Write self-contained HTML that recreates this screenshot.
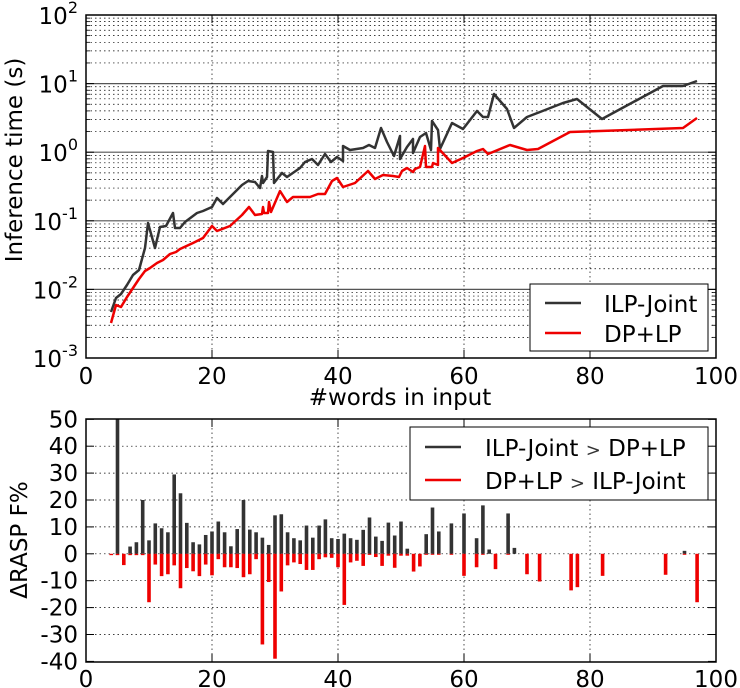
<!DOCTYPE html>
<html><head><meta charset="utf-8"><style>
html,body{margin:0;padding:0;background:#fff;}
svg{display:block;font-family:"DejaVu Sans","Liberation Sans",sans-serif;}
</style></head><body>
<svg id="s" width="740" height="688" viewBox="0 0 740 688" xmlns="http://www.w3.org/2000/svg">
<rect width="740" height="688" fill="#fff"/>
<g id="g1"></g>
<polyline fill="none" stroke="#333" stroke-width="2.5" stroke-linejoin="round" points="111,312 116,298 121,294 127,285 133,275 139,270 145,248 148,223 155,248 160,227 166,226 173,213 175,228 180,228 185,222 197,213 203,211 212,207 217,198 223,204 235,192 242,185 248,181 255,182 260,188 262,176 263,183 267,177 268,151 273,152 274,183 282,173 287,177 300,168 305,162 312,159 318,165 325,154 331,162 337,157 343,161 343,146 350,150 363,148 369,145 375,148 381,128 387,142 394,156 400,136 400,159 407,147 413,139 413,153 420,137 426,133 431,150 432,121 438,130 440,149 452,123 463,129 477,111 483,117 488,117 494,94 507,109 514,128 527,117 540,112 563,103 577,99 602,119 663,86 683,86 697,81"/>
<polyline fill="none" stroke="#e00" stroke-width="2.5" stroke-linejoin="round" points="111,323 116,305 121,307 127,297 133,288 139,279 145,271 150,268 157,263 163,260 170,254 176,252 180,249 193,243 203,238 212,226 217,231 230,226 242,215 249,207 255,215 262,214 263,207 264,213 268,213 269,202 271,212 280,191 287,202 293,197 310,197 318,194 325,194 332,181 337,178 343,187 355,183 368,171 375,179 383,175 393,176 399,177 402,171 407,168 413,172 415,169 420,167 425,146 426,167 432,167 433,163 438,165 438,148 452,163 463,158 477,151 483,149 488,154 510,145 527,150 538,149 570,132 600,131 683,128 697,118"/>
<g id="g2"></g>
<rect x="86" y="15" width="630" height="343" fill="none" stroke="#000" stroke-width="1.5"/>
<rect x="86" y="419" width="630" height="243" fill="none" stroke="#000" stroke-width="1.5"/>
<rect x="530" y="284" width="178" height="67" fill="#fff" stroke="#000" stroke-width="1"/>
<line x1="545" y1="303" x2="581" y2="303" stroke="#333" stroke-width="2.5"/>
<line x1="545" y1="333" x2="581" y2="333" stroke="#e00" stroke-width="2.5"/>
<text x="604" y="312" font-size="23">ILP-Joint</text>
<text x="604" y="342" font-size="23">DP+LP</text>
<rect x="410" y="427" width="298" height="73" fill="#fff" stroke="#000" stroke-width="1"/>
<line x1="425" y1="447" x2="461" y2="447" stroke="#333" stroke-width="2.5"/>
<line x1="425" y1="480" x2="461" y2="480" stroke="#e00" stroke-width="2.5"/>
<text x="485" y="456" font-size="23">ILP-Joint <tspan font-size="18" fill="#333">&gt;</tspan> DP+LP</text>
<text x="485" y="489" font-size="23">DP+LP <tspan font-size="18" fill="#333">&gt;</tspan> ILP-Joint</text>
<text x="400" y="405" font-size="23" text-anchor="middle">#words in input</text>
<text transform="translate(22,160) rotate(-90)" font-size="23" text-anchor="middle">Inference time (s)</text>
<text transform="translate(27,540) rotate(-90)" font-size="23" text-anchor="middle">ΔRASP F%</text>
</svg>
<script>
(function(){
var NS="http://www.w3.org/2000/svg";
var g1=document.getElementById("g1"),g2=document.getElementById("g2");
function el(p,t,a,txt){var e=document.createElementNS(NS,t);for(var k in a)e.setAttribute(k,a[k]);if(txt!==undefined)e.textContent=txt;p.appendChild(e);return e;}
var L=86,R=716,T1=15,B1=358,T2=419,B2=662,dec=68.6;
function xp(x){return L+6.3*x;}
for(var d=0;d<5;d++){var y0=T1+dec*(d+1);
 for(var k=2;k<=9;k++){var y=y0-Math.log10(k)*dec;el(g1,"line",{x1:L,x2:R,y1:y,y2:y,stroke:"#000","stroke-width":0.7,"stroke-dasharray":"1.5,3"});
  el(g2,"line",{x1:L,x2:L+4,y1:y,y2:y,stroke:"#000","stroke-width":0.8});el(g2,"line",{x1:R-4,x2:R,y1:y,y2:y,stroke:"#000","stroke-width":0.8});}
}
for(var d=1;d<5;d++){var y=T1+dec*d;el(g1,"line",{x1:L,x2:R,y1:y,y2:y,stroke:"#555","stroke-width":1.2});}
for(var d=0;d<=5;d++){var y=T1+dec*d;var t=el(g2,"text",{x:L-8,y:y+9,"font-size":23,"text-anchor":"end"});
 t.textContent="10";el(t,"tspan",{dy:-11,"font-size":16},String(2-d));
 el(g2,"line",{x1:L,x2:L+8,y1:y,y2:y,stroke:"#000","stroke-width":1});el(g2,"line",{x1:R-8,x2:R,y1:y,y2:y,stroke:"#000","stroke-width":1});}
for(var i=0;i<=5;i++){var x=xp(i*20);
 if(i>0&&i<5){el(g1,"line",{x1:x,x2:x,y1:T1,y2:B1,stroke:"#000","stroke-width":0.7,"stroke-dasharray":"1.5,3"});
  el(g1,"line",{x1:x,x2:x,y1:T2,y2:B2,stroke:"#000","stroke-width":0.7,"stroke-dasharray":"1.5,3"});}
 el(g2,"text",{x:x,y:384,"font-size":23,"text-anchor":"middle"},String(i*20));
 el(g2,"text",{x:x,y:687,"font-size":23,"text-anchor":"middle"},String(i*20));
 [[B1,-8],[T1,8],[B2,-8],[T2,8]].forEach(function(p){el(g2,"line",{x1:x,x2:x,y1:p[0],y2:p[0]+p[1],stroke:"#000","stroke-width":1});});
}
var z=553.8,u=2.69;
for(var v=-40;v<=50;v+=10){var y=z-v*u;
 if(v>-40&&v<50)el(g1,"line",{x1:L,x2:R,y1:y,y2:y,stroke:"#000","stroke-width":0.7,"stroke-dasharray":"1.5,3"});
 el(g2,"text",{x:L-8,y:y+8,"font-size":23,"text-anchor":"end"},String(v));
 el(g2,"line",{x1:L,x2:L+8,y1:y,y2:y,stroke:"#000","stroke-width":1});el(g2,"line",{x1:R-8,x2:R,y1:y,y2:y,stroke:"#000","stroke-width":1});}
var blk={5:50,7:2.7,8:4.3,9:20,10:5,11:11.3,12:9.5,13:8,14:29.5,15:22.5,16:11.5,17:4.3,18:3.5,19:7,20:8.3,21:12,22:8,23:2.8,24:9.2,25:20,26:9,27:8,28:6,29:3.3,30:14.3,31:14.7,32:8,33:5.8,34:5,35:10.5,36:6,37:10.5,38:12.8,39:5.8,40:5.5,41:7.5,42:5.8,43:5.2,44:8.9,45:13.5,46:6.4,47:4.8,48:11.6,49:6.8,50:12,51:1.9,54:7.3,55:17.2,56:8.3,58:11.3,60:15,62:5.8,63:18,64:1.6,67:15,68:2.2,95:1.1};
var red={4:-0.5,5:-0.5,6:-4.2,7:-0.5,8:-0.5,9:-0.5,10:-18,11:-4,12:-8.3,13:-7.6,14:-4.3,15:-12.8,16:-5.3,17:-6.5,18:-8.3,19:-4,20:-8,21:-2,22:-5,23:-5,24:-5.3,25:-8.7,26:-7.6,27:-2,28:-33.7,29:-10.5,30:-39,31:-14,32:-4.3,33:-3.2,34:-3.8,35:-6,36:-6,37:-2,38:-1.3,39:-1.5,40:-5,41:-19,42:-3.2,43:-2.6,44:-4.5,45:-0.4,46:-1.2,47:-4.5,48:-0.7,49:-5.2,50:-0.7,51:-0.7,52:-6.6,53:-4.7,54:-0.3,55:-0.3,56:-0.3,58:-0.3,60:-8.2,62:-5,63:-0.3,65:-5.7,67:-0.3,70:-7.6,72:-10.3,77:-13.6,78:-12.4,82:-8.2,92:-7.8,95:-0.3,97:-18};
for(var k in blk){var v=blk[k];el(g1,"rect",{x:xp(+k)-1.8,y:z-v*u,width:3.6,height:v*u,fill:"#333"});}
for(var k in red){var v=-red[k];el(g1,"rect",{x:xp(+k)-1.8,y:z,width:3.6,height:Math.max(v*u,1),fill:"#e00"});}
})();
</script>
</body></html>
